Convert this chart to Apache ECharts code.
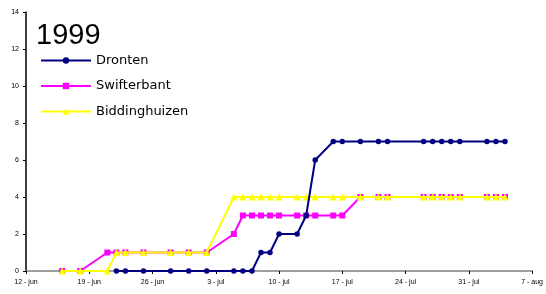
<!DOCTYPE html>
<html>
<head>
<meta charset="utf-8">
<script src="https://cdn.jsdelivr.net/npm/echarts@6/dist/echarts.min.js"></script>
<style>html,body{margin:0;padding:0;background:#fff}#c{width:546px;height:294px}</style>
</head>
<body>
<div id="c"></div>
<script>
var startDate = "1999-06-12";
var tickLabels = ["12 - jun","19 - jun","26 - jun","3 - jul","10 - jul","17 - jul","24 - jul","31 - jul","7 - aug"];

var drontenDates = ["1999-06-22","1999-06-23","1999-06-25","1999-06-28","1999-06-30","1999-07-02","1999-07-05","1999-07-06","1999-07-07","1999-07-08","1999-07-09","1999-07-10","1999-07-12","1999-07-13","1999-07-14","1999-07-16","1999-07-17","1999-07-19","1999-07-21","1999-07-22","1999-07-26","1999-07-27","1999-07-28","1999-07-29","1999-07-30","1999-08-02","1999-08-03","1999-08-04"];
var drontenValues = [0,0,0,0,0,0,0,0,0,1,1,2,2,3,6,7,7,7,7,7,7,7,7,7,7,7,7,7];

var swiftDates = ["1999-06-16","1999-06-18","1999-06-21","1999-06-22","1999-06-23","1999-06-25","1999-06-28","1999-06-30","1999-07-02","1999-07-05","1999-07-06","1999-07-07","1999-07-08","1999-07-09","1999-07-10","1999-07-12","1999-07-13","1999-07-14","1999-07-16","1999-07-17","1999-07-19","1999-07-21","1999-07-22","1999-07-26","1999-07-27","1999-07-28","1999-07-29","1999-07-30","1999-08-02","1999-08-03","1999-08-04"];
var swiftValues = [0,0,1,1,1,1,1,1,1,2,3,3,3,3,3,3,3,3,3,3,4,4,4,4,4,4,4,4,4,4,4];

var biddDates = ["1999-06-16","1999-06-18","1999-06-21","1999-06-22","1999-06-23","1999-06-25","1999-06-28","1999-06-30","1999-07-02","1999-07-05","1999-07-06","1999-07-07","1999-07-08","1999-07-09","1999-07-10","1999-07-12","1999-07-13","1999-07-14","1999-07-16","1999-07-17","1999-07-19","1999-07-21","1999-07-22","1999-07-26","1999-07-27","1999-07-28","1999-07-29","1999-07-30","1999-08-02","1999-08-03","1999-08-04"];
var biddValues = [0,0,0,1,1,1,1,1,1,4,4,4,4,4,4,4,4,4,4,4,4,4,4,4,4,4,4,4,4,4,4];

function dayIndex(s){
  var a = s.split("-"), b = startDate.split("-");
  return Math.round((Date.UTC(+a[0],+a[1]-1,+a[2]) - Date.UTC(+b[0],+b[1]-1,+b[2]))/86400000);
}
function pairs(dates, vals){ return dates.map(function(d,i){ return [dayIndex(d), vals[i]]; }); }

var chart = echarts.init(document.getElementById('c'), null, {renderer:'canvas'});
var font = "'Liberation Sans', Arial, sans-serif";
chart.setOption({
  animation:false,
  textStyle:{fontFamily:font},
  title:{text:"1999", left:31, top:16, textStyle:{fontSize:29, fontWeight:'normal', color:'#000', fontFamily:font}},
  legend:{
    orient:'vertical', left:35, top:49, itemGap:12.5, itemWidth:50, itemHeight:8,
    textStyle:{fontSize:13, color:'#000', fontFamily:"'DejaVu Sans', sans-serif"},
    data:['Dronten','Swifterbant','Biddinghuizen']
  },
  grid:{left:26, right:10, top:12, bottom:23, containLabel:false},
  xAxis:{
    type:'value', min:0, max:56, interval:7,
    axisLine:{lineStyle:{color:'#808080', width:1.5}},
    axisTick:{show:true, length:3, lineStyle:{color:'#000'}},
    axisLabel:{fontSize:7, color:'#000', margin:8, formatter:function(v){ return tickLabels[Math.round(v/7)] || ''; }},
    splitLine:{show:false}
  },
  yAxis:{
    type:'value', min:0, max:14, interval:2,
    axisLine:{show:true, lineStyle:{color:'#000', width:1.5}},
    axisTick:{show:true, length:3, lineStyle:{color:'#000'}},
    axisLabel:{fontSize:7, color:'#000', margin:7},
    splitLine:{show:false}
  },
  series:[
    {name:'Dronten', type:'line', z:5, data:pairs(drontenDates, drontenValues), symbol:'circle', symbolSize:5.5, showAllSymbol:true,
     lineStyle:{color:'#000080', width:2}, itemStyle:{color:'#000080'}},
    {name:'Swifterbant', type:'line', z:3, data:pairs(swiftDates, swiftValues), symbol:'rect', symbolSize:6, showAllSymbol:true,
     lineStyle:{color:'#FF00FF', width:2}, itemStyle:{color:'#FF00FF'}},
    {name:'Biddinghuizen', type:'line', z:4, data:pairs(biddDates, biddValues), symbol:'triangle', symbolSize:7, showAllSymbol:true,
     lineStyle:{color:'#FFFF00', width:2}, itemStyle:{color:'#FFFF00'}}
  ]
});
</script>
</body>
</html>
